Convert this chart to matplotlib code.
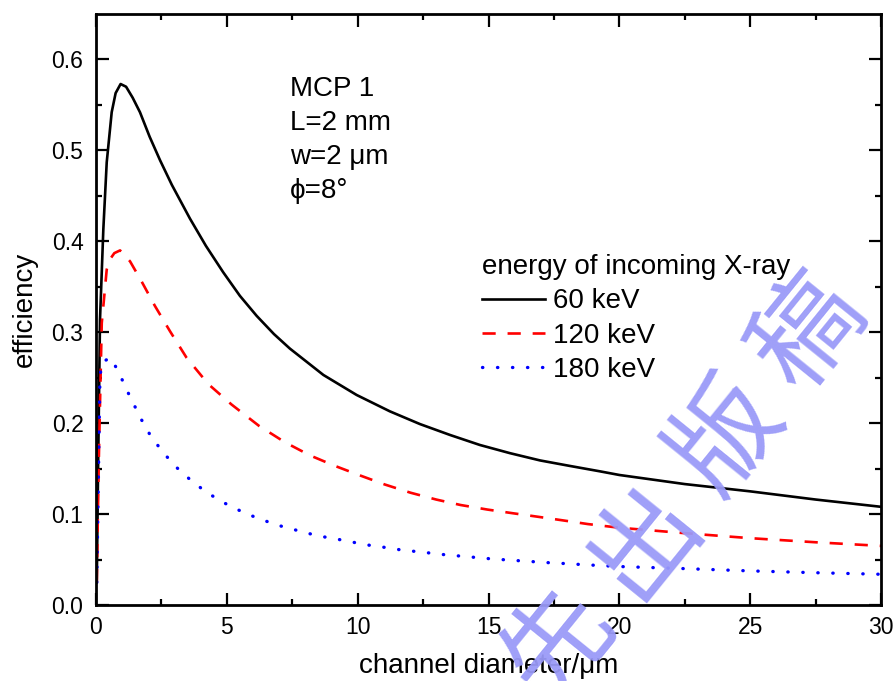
import matplotlib
matplotlib.use("Agg")
import matplotlib.pyplot as plt
from matplotlib.lines import Line2D

# ---- data ----
x60 = [0.03, 0.08, 0.153, 0.28, 0.41, 0.6, 0.75, 0.94, 1.15, 1.4, 1.68, 2.05, 2.45, 2.9,
       3.59, 4.2, 4.86, 5.5, 6.14, 6.8, 7.41, 8.69, 9.96, 11.23, 12.38, 13.53, 14.67,
       15.82, 16.97, 18.1, 19.26, 20.0, 22.5, 25.0, 27.5, 30.0]
y60 = [0.025, 0.15, 0.314, 0.413, 0.487, 0.542, 0.563, 0.573, 0.570, 0.558, 0.542, 0.515,
       0.489, 0.462, 0.425, 0.395, 0.366, 0.340, 0.318, 0.298, 0.282, 0.253, 0.231, 0.213,
       0.199, 0.187, 0.176, 0.167, 0.159, 0.153, 0.147, 0.143, 0.133, 0.125, 0.116, 0.108]

x120 = [0.03, 0.1, 0.22, 0.41, 0.53, 0.7, 0.92, 1.3, 1.74, 2.25, 2.83, 3.46, 4.29, 5.18,
        6.23, 7.22, 8.18, 9.13, 10.09, 11.04, 12.02, 13.0, 13.93, 14.95, 15.91, 16.9,
        17.86, 18.8, 20.0, 22.5, 25.0, 27.5, 30.0]
y120 = [0.025, 0.15, 0.31, 0.369, 0.38, 0.387, 0.39, 0.378, 0.356, 0.329, 0.301, 0.272,
        0.243, 0.2205, 0.197, 0.179, 0.1645, 0.153, 0.1425, 0.1325, 0.1235, 0.116, 0.110,
        0.105, 0.101, 0.097, 0.093, 0.089, 0.085, 0.079, 0.0735, 0.069, 0.065]

x180 = [0.03, 0.08, 0.15, 0.22, 0.56, 0.88, 1.15, 1.43, 1.72, 2.06, 2.48, 2.99, 3.57,
        4.14, 4.74, 5.31, 5.88, 6.46, 7.03, 7.6, 8.18, 8.77, 9.35, 9.92, 10.51, 11.08,
        11.65, 12.24, 12.81, 13.39, 13.97, 14.55, 15.12, 15.69, 16.27, 16.84, 17.42,
        17.99, 18.6, 20.0, 22.5, 25.0, 27.5, 30.0]
y180 = [0.025, 0.12, 0.25, 0.267, 0.272, 0.2555, 0.238, 0.2216, 0.2047, 0.1874, 0.1709,
        0.1536, 0.1386, 0.1257, 0.1147, 0.1062, 0.0989, 0.0926, 0.0871, 0.0827, 0.0783,
        0.0746, 0.0717, 0.0685, 0.0654, 0.0632, 0.0606, 0.0588, 0.057, 0.0551, 0.0537,
        0.0522, 0.0507, 0.0496, 0.0485, 0.0474, 0.0463, 0.0455, 0.0444, 0.0423, 0.040,
        0.0375, 0.0355, 0.0338]

series_labels = ["60 keV", "120 keV", "180 keV"]
legend_title = "energy of incoming X-ray"
info_lines = ["MCP 1", "L=2 mm", "w=2 \u03bcm", "\u03d5=8\u00b0"]
xlabel = "channel diameter/\u03bcm"
ylabel = "efficiency"
watermark = "优先出版稿"

plt.rcParams['font.family'] = ['Liberation Sans', 'DejaVu Sans']

W, H = 896, 681
fig = plt.figure(figsize=(W/100, H/100), dpi=100)
ax = fig.add_axes([96/W, 1-605/H, (881-96)/W, (605-14)/H])

ls_red = (0, (5, 4.5))
ls_blue = (0, (0.1, 4.4))
ax.plot(x60, y60, color='black', lw=1.9, solid_joinstyle='round')
ax.plot(x120, y120, color='#ff0000', lw=1.9, linestyle=ls_red)
ax.plot(x180, y180, color='#0000ff', lw=2.4, linestyle=ls_blue, dash_capstyle='round')

ax.set_xlim(0, 30)
ax.set_ylim(0, 0.65)
ax.set_xticks([0, 5, 10, 15, 20, 25, 30])
ax.set_xticks([2.5, 7.5, 12.5, 17.5, 22.5, 27.5], minor=True)
ax.set_yticks([0.0, 0.1, 0.2, 0.3, 0.4, 0.5, 0.6])
ax.set_yticks([0.05, 0.15, 0.25, 0.35, 0.45, 0.55], minor=True)
ax.set_yticklabels(["0.0", "0.1", "0.2", "0.3", "0.4", "0.5", "0.6"])
ax.tick_params(which='both', direction='in', top=True, right=True, width=1.6,
               labelsize=16.5)
ax.tick_params(axis='x', pad=8)
ax.tick_params(axis='y', pad=9)
ax.tick_params(which='major', length=9)
ax.tick_params(which='minor', length=4.5)
for s in ax.spines.values():
    s.set_linewidth(2)

ax.set_xlabel(xlabel, fontsize=20, labelpad=10)
ax.set_ylabel(ylabel, fontsize=20, labelpad=10)

for i, t in enumerate(info_lines):
    ax.text(7.41, 0.568 - i*0.0375, t, fontsize=20, va='center', ha='left')

handles = [Line2D([], [], color='black', lw=1.9),
           Line2D([], [], color='#ff0000', lw=1.9, linestyle=ls_red),
           Line2D([], [], color='#0000ff', lw=2.4, linestyle=ls_blue,
                  dash_capstyle='round')]
leg = ax.legend(handles, series_labels, title=legend_title, frameon=False,
                fontsize=20, title_fontsize=20, loc='upper left',
                bbox_to_anchor=((482-96)/785, (605-254)/591), borderaxespad=0,
                handlelength=2.25, handletextpad=0.3,
                labelspacing=0.3, borderpad=0)
leg._legend_box.align = "left"
leg._legend_box.sep = 6

# watermark characters along a rising diagonal
centers = [(475, 750), (560, 645), (645, 540), (728, 437), (810, 333)]
for ch, (px, py) in zip(watermark, centers):
    fig.text(px/W, 1-py/H, ch, fontsize=78, rotation=51, color='#9a9af8',
             family=['Noto Sans CJK SC', 'DejaVu Sans'], fontweight='light',
             ha='center', va='center', zorder=10, alpha=0.95)

fig.savefig("out.png", dpi=100)
